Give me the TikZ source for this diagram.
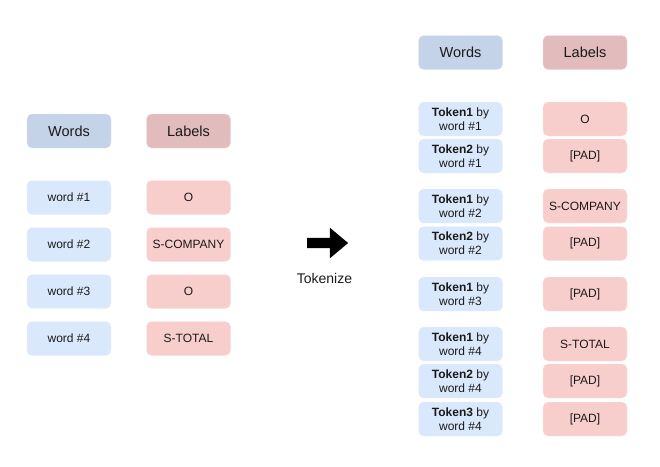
\documentclass[tikz,border=0pt]{standalone}
\usepackage{fontspec}
\setsansfont{Liberation Sans}
\usetikzlibrary{positioning, shapes.arrows}
\definecolor{WordHead}{HTML}{C5D3E8}
\definecolor{LabelHead}{HTML}{E2BCBC}
\definecolor{WordFill}{HTML}{DAE8FC}
\definecolor{LabelFill}{HTML}{F8CECC}
\definecolor{TextDark}{HTML}{1A1A1A}
\tikzset{
  box/.style={rounded corners=5pt, minimum width=84pt, minimum height=34pt,
              inner sep=0pt, align=center, text=TextDark},
  headword/.style={box, fill=WordHead, draw=WordHead!50!white, font=\sffamily\fontsize{14.5}{16}\selectfont},
  headlabel/.style={box, fill=LabelHead, draw=LabelHead!50!white, font=\sffamily\fontsize{14.5}{16}\selectfont},
  wordbox/.style={box, fill=WordFill, draw=WordFill!50!white, font=\sffamily\fontsize{12}{14}\selectfont},
  labelbox/.style={box, fill=LabelFill, draw=LabelFill!50!white, font=\sffamily\fontsize{12}{14}\selectfont}
}

\begin{document}
\begin{tikzpicture}[x=1pt, y=-1pt, font=\sffamily]
\useasboundingbox (0,0) rectangle (660,466);

% ================= ANTES: palabras =================
\node[headword] (wordsL) at (69,131) {Words};
\node[headlabel] (labelsL) at (188.5,131) {Labels};
\foreach \lab [count=\i] in {O, S-COMPANY, O, S-TOTAL} {
  \node[wordbox] (w\i) at (69,{197.5+47*(\i-1)}) {word \#\i};
  \node[labelbox] (l\i) at (188.5,{197.5+47*(\i-1)}) {\lab};
}

% ================= flecha =================
\node[single arrow, fill=black, minimum height=41pt, inner xsep=0pt, inner ysep=5pt,
      single arrow head extend=10pt, single arrow tip angle=80] (tokarrow) at (324.5,243) {};
\node[font=\sffamily\fontsize{14}{16}\selectfont, text=TextDark] (toklabel) at (324.5,278) {Tokenize};

% ================= DESPUES: tokens =================
\node[headword] (wordsR) at (460.5,52.5) {Words};
\node[headlabel] (labelsR) at (585,52.5) {Labels};
\foreach \y/\tok/\w/\lab [count=\i] in {119/1/1/O, 156/2/1/{[PAD]},
    206/1/2/S-COMPANY, 243.5/2/2/{[PAD]}, 294/1/3/{[PAD]},
    344/1/4/S-TOTAL, 381/2/4/{[PAD]}, 419/3/4/{[PAD]}} {
  \node[wordbox] (t\i) at (460.5,\y) {\textbf{Token\tok} by\\word \#\w};
  \node[labelbox] (tl\i) at (585,\y) {\lab};
}

\end{tikzpicture}
\end{document}
